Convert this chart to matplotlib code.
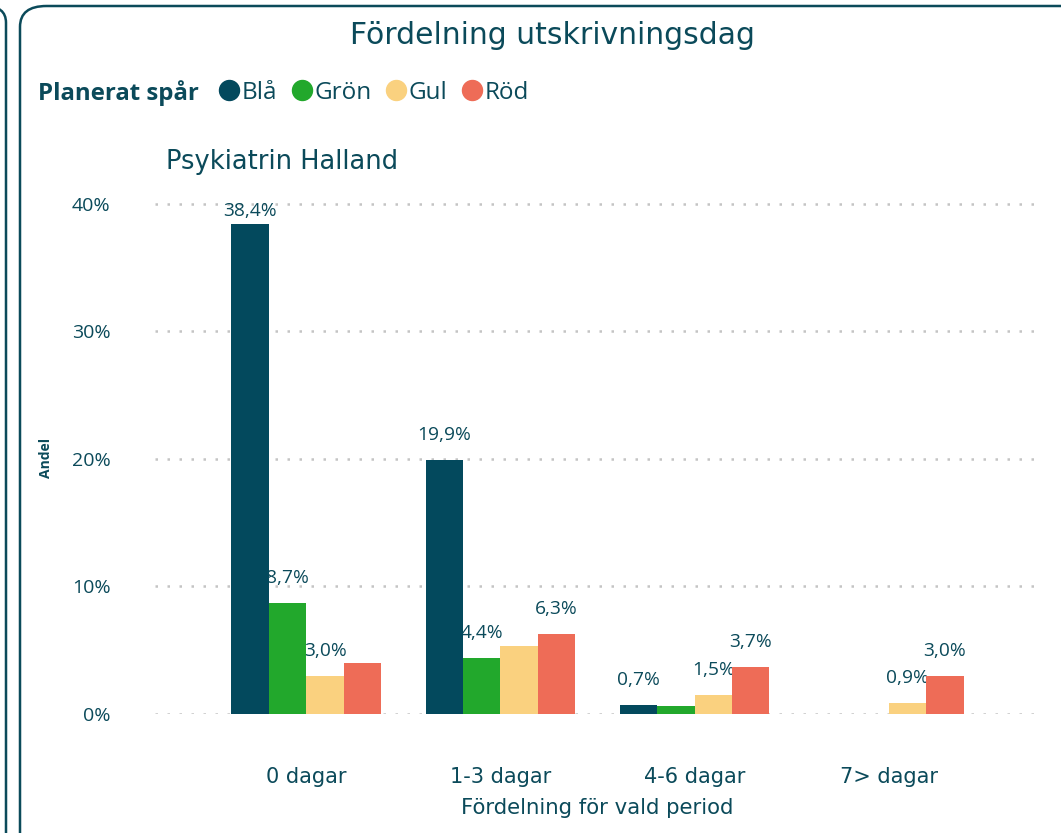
import matplotlib
matplotlib.use("Agg")
import matplotlib.pyplot as plt
from matplotlib.lines import Line2D
from matplotlib.patches import FancyBboxPatch
import numpy as np

# data
categories = ["0 dagar", "1-3 dagar", "4-6 dagar", "7> dagar"]
series_names = ["Blå", "Grön", "Gul", "Röd"]
bla = [38.4, 19.9, 0.7, 0.0]
gron = [8.7, 4.4, 0.6, 0.0]
gul = [3.0, 5.3, 1.5, 0.9]
rod = [4.0, 6.3, 3.7, 3.0]
# labels shown in the picture (None = hidden by the report)
bla_labels = ["38,4%", "19,9%", "0,7%", None]
gron_labels = ["8,7%", "4,4%", None, None]
gul_labels = ["3,0%", None, "1,5%", "0,9%"]
rod_labels = [None, "6,3%", "3,7%", "3,0%"]
yticks = [0, 10, 20, 30, 40]

colors = ["#03495D", "#22A82C", "#FAD17F", "#EE6C57"]
teal = "#0B4A5A"
label_font = ["Open Sans", "DejaVu Sans"]
head_font = ["DejaVu Sans"]

fig = plt.figure(figsize=(10.61, 8.33), dpi=100)

# panel borders
fig.patches.append(FancyBboxPatch((20 / 1061, -0.05), 1.1, 1.05 - 6 / 833,
                                  boxstyle="round,pad=0,rounding_size=0.025",
                                  transform=fig.transFigure, fill=False,
                                  edgecolor=teal, linewidth=1.8))
fig.patches.append(FancyBboxPatch((-0.2, -0.05), 0.2 + 6 / 1061, 1.05 - 6 / 833,
                                  boxstyle="round,pad=0,rounding_size=0.02",
                                  transform=fig.transFigure, fill=False,
                                  edgecolor=teal, linewidth=1.8))

ax = fig.add_axes([155 / 1061, 1 - 714 / 833, (1040 - 155) / 1061, (714 - 195) / 833])

x = np.arange(len(categories))
width = 0.193
all_vals = [bla, gron, gul, rod]
all_labels = [bla_labels, gron_labels, gul_labels, rod_labels]
ymax = 40.7
for i, (vals, labs) in enumerate(zip(all_vals, all_labels)):
    xs = x + (i - 1.5) * width
    ax.bar(xs, vals, width=width, color=colors[i], zorder=3)
    for xi, v, lab in zip(xs, vals, labs):
        if lab is None:
            continue
        # labels sit above the bars, but stay inside the plot area
        ly = min(v + 1.96, 39.45)
        ax.text(xi, ly, lab, ha="center", va="center", fontsize=13.8,
                color=teal, family=label_font, zorder=2)

ax.set_xlim(-0.78, 3.78)
ax.set_ylim(0, ymax)
ax.set_yticks(yticks)
ax.set_yticklabels([f"{t}%" for t in yticks], family=label_font, fontsize=14, color=teal)
ax.set_xticks(x)
ax.set_xticklabels(categories, family=head_font, fontsize=15, color=teal)
ax.tick_params(axis="y", length=0, pad=32)
ax.tick_params(axis="x", length=0, pad=38)
for t in yticks:
    ax.axhline(t, color="#C4C4C4", linewidth=1.8, linestyle=(0, (1, 3.8)), zorder=1)
for s in ax.spines.values():
    s.set_visible(False)

ax.set_xlabel("Fördelning för vald period", family=head_font, fontsize=15.3,
              color=teal, labelpad=8)
fig.text(46 / 1061, 1 - 458 / 833, "Andel", rotation=90, ha="center", va="center",
         fontsize=10, fontweight="bold", color=teal, family=label_font)

fig.text(553 / 1061, 1 - 36 / 833, "Fördelning utskrivningsdag", ha="center", va="center",
         fontsize=21.5, color=teal, family=head_font)
fig.text(166 / 1061, 1 - 162 / 833, "Psykiatrin Halland", ha="left", va="center",
         fontsize=18.5, color=teal, family=head_font)

fig.text(38 / 1061, 1 - 93 / 833, "Planerat spår", ha="left", va="center",
         fontsize=17.3, fontweight="bold", color=teal, family=label_font)
handles = [Line2D([], [], marker="o", linestyle="", markersize=14.4,
                  markerfacecolor=c, markeredgecolor=c) for c in colors]
fig.legend(handles, series_names, loc="center left",
           bbox_to_anchor=(216 / 1061, 1 - 93 / 833), ncol=4, frameon=False,
           handletextpad=-0.04, columnspacing=0.47, handlelength=1.1,
           prop={"family": label_font, "size": 17.5}, labelcolor=teal,
           borderpad=0, borderaxespad=0)

fig.savefig("out.png", dpi=100)
